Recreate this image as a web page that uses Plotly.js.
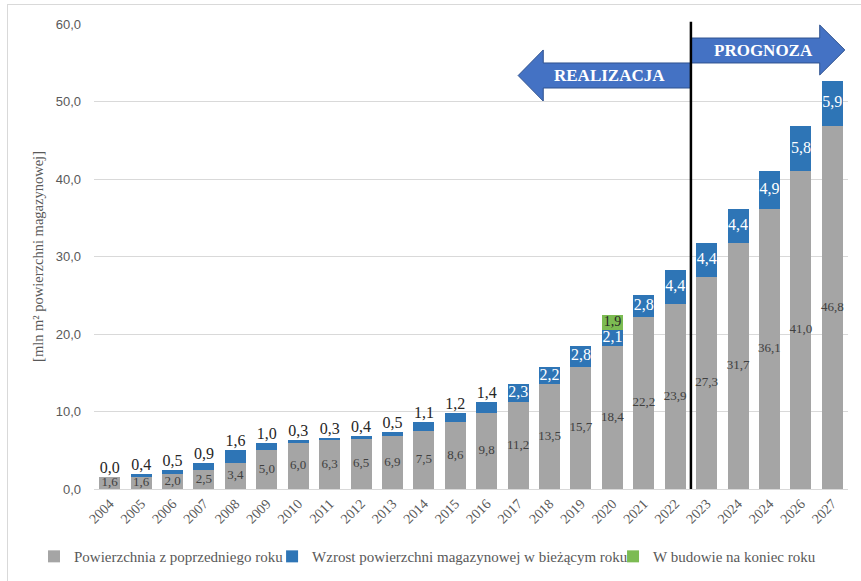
<!DOCTYPE html>
<html><head><meta charset="utf-8">
<script src="https://cdn.plot.ly/plotly-3.0.1.min.js"></script>
<style>
html,body{margin:0;padding:0;background:#fff;}
#wrap{position:relative;width:861px;height:581px;}
#chart{position:absolute;left:0;top:0;width:861px;height:581px;}
#frame{position:absolute;left:7px;top:4px;width:860px;height:590px;border-left:1px solid #d9d9d9;border-top:1px solid #d9d9d9;pointer-events:none;}
</style>
</head><body>
<div id="wrap"><div id="chart"></div><div id="frame"></div></div>
<script>
const years = ['2004','2005','2006','2007','2008','2009','2010','2011','2012','2013','2014','2015','2016','2017','2018','2019','2020','2021','2022','2023','2024','2024','2026','2027'];
const prevArea = [1.6,1.6,2.0,2.5,3.4,5.0,6.0,6.3,6.5,6.9,7.5,8.6,9.8,11.2,13.5,15.7,18.4,22.2,23.9,27.3,31.7,36.1,41.0,46.8];
const growth = [0.0,0.4,0.5,0.9,1.6,1.0,0.3,0.3,0.4,0.5,1.1,1.2,1.4,2.3,2.2,2.8,2.1,2.8,4.4,4.4,4.4,4.9,5.8,5.9];
const underConstruction = [null,null,null,null,null,null,null,null,null,null,null,null,null,null,null,null,1.9,null,null,null,null,null,null,null];
const seriesNames = ['Powierzchnia z poprzedniego roku','Wzrost powierzchni magazynowej w bieżącym roku','W budowie na koniec roku'];
const yTicks = [0,10,20,30,40,50,60];

const idx = years.map((_, i) => i);
const fmt = v => v.toFixed(1).replace('.', ',');
const serif = 'Liberation Serif, Times New Roman, serif';
const sans = 'Liberation Sans, Arial, sans-serif';

const gray = '#a5a5a5', blue = '#2e75b6', green = '#7cbb52';

const traces = [
  {type:'bar', name:seriesNames[0], x:idx, y:prevArea, marker:{color:gray}, hoverinfo:'skip', legend:'legend'},
  {type:'bar', name:seriesNames[1], x:idx, y:growth, marker:{color:blue}, hoverinfo:'skip', legend:'legend2'},
  {type:'bar', name:seriesNames[2], x:idx, y:underConstruction, marker:{color:green}, hoverinfo:'skip', legend:'legend3'},
  {type:'scatter', mode:'text', x:idx, y:prevArea.map(v => v/2), text:prevArea.map(fmt),
   textposition:'middle center', textfont:{family:serif, size:13, color:'#404040'}, showlegend:false, hoverinfo:'skip', cliponaxis:false},
  {type:'scatter', mode:'text', x:idx.filter(i => growth[i] >= 2), y:idx.filter(i => growth[i] >= 2).map(i => prevArea[i] + growth[i]/2),
   text:idx.filter(i => growth[i] >= 2).map(i => fmt(growth[i])),
   textposition:'middle center', textfont:{family:serif, size:16, color:'#ffffff'}, showlegend:false, hoverinfo:'skip', cliponaxis:false},
  {type:'scatter', mode:'text', x:idx.filter(i => growth[i] < 2), y:idx.filter(i => growth[i] < 2).map(i => prevArea[i] + growth[i]),
   text:idx.filter(i => growth[i] < 2).map(i => fmt(growth[i])),
   textposition:'top center', textfont:{family:serif, size:16, color:'#262626'}, showlegend:false, hoverinfo:'skip', cliponaxis:false},
  {type:'scatter', mode:'text', x:idx.filter(i => underConstruction[i] != null),
   y:idx.filter(i => underConstruction[i] != null).map(i => prevArea[i] + growth[i] + underConstruction[i]/2),
   text:idx.filter(i => underConstruction[i] != null).map(i => fmt(underConstruction[i])),
   textposition:'middle center', textfont:{family:serif, size:14, color:'#262626'}, showlegend:false, hoverinfo:'skip', cliponaxis:false}
];

const arrowFill = '#4472c4', arrowLine = '#2f528f';
const legendBase = {orientation:'h', xref:'container', yref:'container', y:0.042, yanchor:'middle', xanchor:'left',
  font:{family:serif, size:15, color:'#595959'}, bgcolor:'rgba(0,0,0,0)', itemwidth:30};
const layout = {
  width:861, height:581,
  margin:{l:94, r:13, t:24, b:92},
  paper_bgcolor:'#ffffff', plot_bgcolor:'#ffffff',
  barmode:'stack', bargap:0.33,
  separators:', ',
  showlegend:true,
  legend:Object.assign({}, legendBase, {x:0.0395}),
  legend2:Object.assign({}, legendBase, {x:0.316}),
  legend3:Object.assign({}, legendBase, {x:0.712}),
  xaxis:{range:[-0.5, 23.5], tickmode:'array', tickvals:idx, ticktext:years, tickangle:-45, automargin:false,
    tickfont:{family:serif, size:14, color:'#595959'}, showgrid:false, zeroline:false,
    showline:true, linecolor:'#d9d9d9', linewidth:1, ticks:'', fixedrange:true},
  yaxis:{range:[0, 60], tickmode:'array', tickvals:yTicks, tickformat:'.1f', automargin:false,
    tickfont:{family:sans, size:13, color:'#595959'}, showgrid:true, gridcolor:'#d9d9d9', gridwidth:1,
    zeroline:false, showline:false, ticks:'', ticklabelstandoff:12,
    title:{text:'[mln m² powierzchni magazynowej]', font:{family:serif, size:14.5, color:'#595959'}, standoff:8}},
  shapes:[
    {type:'line', xref:'x', yref:'paper', x0:18.5, x1:18.5, y0:0, y1:1.005, line:{color:'#000000', width:2.5}, layer:'above'},
    {type:'path', xref:'x', yref:'y', layer:'below',
     path:'M 13.0 53.35 L 13.8 56.65 L 13.8 54.97 L 18.5 54.97 L 18.5 51.74 L 13.8 51.74 L 13.8 50.05 Z',
     fillcolor:arrowFill, line:{color:arrowLine, width:1}},
    {type:'path', xref:'x', yref:'y', layer:'below',
     path:'M 18.5 58.19 L 22.6 58.19 L 22.6 59.87 L 23.4 56.65 L 22.6 53.42 L 22.6 54.97 L 18.5 54.97 Z',
     fillcolor:arrowFill, line:{color:arrowLine, width:1}}
  ],
  annotations:[
    {xref:'x', yref:'y', x:15.9, y:53.35, text:'<b>REALIZACJA</b>', showarrow:false,
     font:{family:serif, size:17, color:'#ffffff'}},
    {xref:'x', yref:'y', x:20.8, y:56.6, text:'<b>PROGNOZA</b>', showarrow:false,
     font:{family:serif, size:17, color:'#ffffff'}}
  ]
};

Plotly.newPlot('chart', traces, layout, {displayModeBar:false, staticPlot:true});
</script>
</body></html>
